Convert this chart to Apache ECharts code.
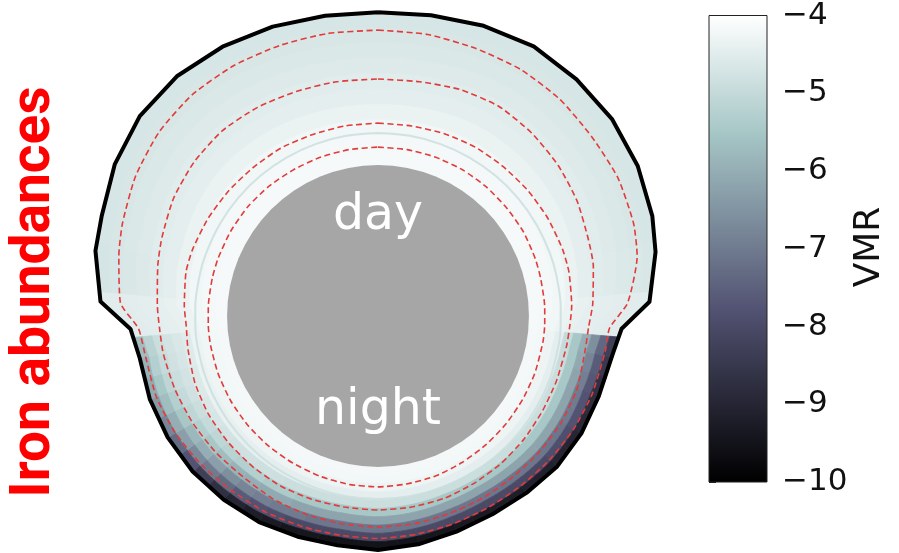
<!DOCTYPE html>
<html>
<head>
<meta charset="utf-8">
<script src="https://cdn.jsdelivr.net/npm/echarts@6/dist/echarts.min.js"></script>
<style>
  html, body { margin: 0; padding: 0; background: #ffffff; }
  #chart { width: 899px; height: 553px; }
</style>
</head>
<body>
<div id="chart"></div>
<script>
// Radii are in planetary radii; angles in degrees clockwise from the
// substellar point (top of the disk, "day") round to the antistellar point.
const planetRadius = 1.0;
const ringRadius = 1.212;
const ringVmr = -4.9;

const profileAngles = [0, 10, 20, 30, 40, 50, 60, 70, 77, 87, 93, 99, 110, 120, 130, 140, 150, 160, 170, 180,
  190, 200, 210, 220, 230, 240, 250, 260, 267, 273, 283, 290, 300, 310, 320, 330, 340, 350, 360];

// Top of the model domain
const topRadius = [2.013, 2.023, 2.046, 2.063, 2.046, 2.026, 1.987, 1.934, 1.887, 1.801, 1.616, 1.576, 1.556, 1.556,
  1.550, 1.530, 1.517, 1.520, 1.536, 1.550, 1.543, 1.556, 1.576, 1.589, 1.603, 1.609, 1.609, 1.603, 1.642, 1.841,
  1.921, 1.947, 2.013, 2.060, 2.073, 2.060, 2.040, 2.020, 2.013];

// Dashed isobars, innermost to outermost
const isobar1 = [1.119, 1.119, 1.119, 1.119, 1.116, 1.113, 1.113, 1.109, 1.106, 1.106, 1.106, 1.106, 1.106, 1.106,
  1.109, 1.113, 1.119, 1.126, 1.129, 1.132, 1.132, 1.129, 1.126, 1.126, 1.126, 1.126, 1.126, 1.126, 1.126, 1.126,
  1.126, 1.126, 1.126, 1.126, 1.123, 1.119, 1.119, 1.119, 1.119];
const isobar2 = [1.278, 1.278, 1.285, 1.291, 1.291, 1.295, 1.298, 1.300, 1.298, 1.285, 1.272, 1.265, 1.258, 1.258,
  1.265, 1.272, 1.278, 1.285, 1.285, 1.285, 1.285, 1.291, 1.298, 1.298, 1.298, 1.298, 1.291, 1.278, 1.272, 1.285,
  1.305, 1.305, 1.298, 1.291, 1.285, 1.285, 1.278, 1.278, 1.278];
const isobar3 = [1.570, 1.576, 1.596, 1.603, 1.583, 1.556, 1.523, 1.483, 1.464, 1.424, 1.397, 1.391, 1.404, 1.404,
  1.397, 1.391, 1.391, 1.391, 1.397, 1.397, 1.397, 1.397, 1.397, 1.391, 1.404, 1.417, 1.430, 1.444, 1.450, 1.464,
  1.497, 1.523, 1.563, 1.589, 1.603, 1.596, 1.583, 1.576, 1.570];
const isobar4 = [1.894, 1.894, 1.887, 1.887, 1.874, 1.848, 1.834, 1.801, 1.762, 1.656, 1.536, 1.523, 1.510, 1.497,
  1.483, 1.470, 1.464, 1.464, 1.468, 1.474, 1.474, 1.483, 1.497, 1.510, 1.530, 1.550, 1.563, 1.563, 1.589, 1.709,
  1.762, 1.801, 1.854, 1.894, 1.914, 1.914, 1.907, 1.901, 1.894];

// log10 VMR of Fe on model layers (rows: bottom layer first), day-side columns
const dayColumnEdges = [-95, -85, -75, -65, -55, -45, -35, -25, -15, -5, 5, 15, 25, 35, 45, 55, 65, 75, 85, 95];
const dayVmr = [
  [-4.16, -4.16, -4.16, -4.16, -4.16, -4.16, -4.16, -4.16, -4.16, -4.16, -4.16, -4.16, -4.16, -4.16, -4.16, -4.16, -4.16, -4.16, -4.16],
  [-4.18, -4.18, -4.18, -4.18, -4.18, -4.18, -4.18, -4.18, -4.18, -4.18, -4.18, -4.18, -4.18, -4.18, -4.18, -4.18, -4.18, -4.18, -4.18],
  [-4.24, -4.24, -4.24, -4.24, -4.24, -4.24, -4.24, -4.24, -4.24, -4.24, -4.24, -4.24, -4.24, -4.24, -4.24, -4.24, -4.24, -4.24, -4.24],
  [-4.32, -4.34, -4.34, -4.34, -4.34, -4.34, -4.34, -4.34, -4.34, -4.34, -4.34, -4.34, -4.34, -4.34, -4.34, -4.34, -4.34, -4.34, -4.32],
  [-4.40, -4.45, -4.45, -4.45, -4.45, -4.45, -4.45, -4.45, -4.45, -4.45, -4.45, -4.45, -4.45, -4.45, -4.45, -4.45, -4.45, -4.45, -4.40],
  [-4.44, -4.53, -4.52, -4.52, -4.52, -4.52, -4.52, -4.52, -4.52, -4.52, -4.52, -4.52, -4.52, -4.52, -4.52, -4.52, -4.52, -4.52, -4.44],
  [-4.46, -4.58, -4.57, -4.57, -4.57, -4.57, -4.57, -4.57, -4.57, -4.57, -4.57, -4.57, -4.57, -4.57, -4.57, -4.57, -4.57, -4.55, -4.46],
  [-4.48, -4.64, -4.62, -4.62, -4.62, -4.62, -4.62, -4.62, -4.62, -4.62, -4.62, -4.62, -4.62, -4.62, -4.62, -4.62, -4.62, -4.60, -4.48],
  [-4.50, -4.68, -4.66, -4.66, -4.66, -4.66, -4.66, -4.66, -4.66, -4.66, -4.66, -4.66, -4.66, -4.66, -4.66, -4.66, -4.66, -4.63, -4.50],
  [-4.52, -4.72, -4.70, -4.70, -4.70, -4.70, -4.70, -4.70, -4.70, -4.70, -4.70, -4.70, -4.70, -4.70, -4.70, -4.70, -4.70, -4.66, -4.52]
];

// Night-side columns
const nightColumnEdges = [95, 100, 105, 110, 115, 120, 125, 130, 135, 140, 145, 150, 155, 160, 165, 170, 175, 180,
  185, 190, 195, 200, 205, 210, 215, 220, 225, 230, 235, 240, 245, 250, 255, 260, 265];
const nightVmr = [
  [-4.18, -4.18, -4.18, -4.18, -4.18, -4.18, -4.18, -4.18, -4.18, -4.18, -4.18, -4.18, -4.18, -4.18, -4.18, -4.18, -4.18, -4.18, -4.18, -4.18, -4.18, -4.18, -4.18, -4.18, -4.18, -4.18, -4.18, -4.18, -4.18, -4.18, -4.18, -4.18, -4.18, -4.18],
  [-4.22, -4.22, -4.22, -4.22, -4.22, -4.22, -4.22, -4.22, -4.22, -4.22, -4.22, -4.22, -4.22, -4.22, -4.22, -4.22, -4.22, -4.22, -4.22, -4.22, -4.22, -4.22, -4.22, -4.22, -4.22, -4.22, -4.22, -4.22, -4.22, -4.22, -4.22, -4.22, -4.22, -4.22],
  [-4.30, -4.30, -4.30, -4.30, -4.30, -4.30, -4.30, -4.30, -4.30, -4.30, -4.30, -4.30, -4.30, -4.30, -4.30, -4.30, -4.30, -4.30, -4.30, -4.30, -4.30, -4.30, -4.30, -4.30, -4.30, -4.30, -4.30, -4.30, -4.30, -4.29, -4.28, -4.27, -4.26, -4.26],
  [-4.45, -4.45, -4.45, -4.45, -4.45, -4.45, -4.45, -4.45, -4.45, -4.45, -4.45, -4.45, -4.45, -4.45, -4.45, -4.45, -4.45, -4.45, -4.45, -4.45, -4.45, -4.45, -4.45, -4.45, -4.45, -4.44, -4.43, -4.42, -4.40, -4.38, -4.36, -4.34, -4.33, -4.32],
  [-5.00, -4.95, -4.90, -4.90, -4.90, -4.90, -4.90, -4.90, -4.90, -4.90, -4.90, -4.90, -4.90, -4.90, -4.90, -4.90, -4.90, -4.90, -4.90, -4.90, -4.90, -4.90, -4.90, -4.85, -4.85, -4.80, -4.80, -4.75, -4.70, -4.65, -4.60, -4.60, -4.55, -4.55],
  [-5.50, -5.50, -5.50, -5.50, -5.50, -5.50, -5.50, -5.50, -5.50, -5.50, -5.50, -5.50, -5.50, -5.50, -5.50, -5.50, -5.50, -5.50, -5.50, -5.50, -5.50, -5.50, -5.40, -5.40, -5.30, -5.30, -5.20, -5.10, -5.00, -4.90, -4.80, -4.75, -4.70, -4.65],
  [-6.00, -6.10, -6.20, -6.20, -6.20, -6.20, -6.20, -6.20, -6.20, -6.20, -6.20, -6.20, -6.20, -6.20, -6.20, -6.20, -6.20, -6.20, -6.20, -6.20, -6.20, -6.20, -6.10, -6.10, -6.00, -5.90, -5.70, -5.50, -5.30, -5.10, -5.00, -4.90, -4.80, -4.75],
  [-6.60, -6.80, -6.90, -7.00, -7.00, -7.10, -7.10, -7.10, -7.10, -7.10, -7.10, -7.10, -7.10, -7.10, -7.10, -7.10, -7.10, -7.10, -7.10, -7.10, -7.10, -7.00, -7.00, -6.90, -6.80, -6.60, -6.30, -6.00, -5.80, -5.50, -5.30, -5.10, -5.00, -4.90],
  [-7.40, -7.60, -7.70, -7.80, -7.80, -7.90, -7.90, -8.00, -8.00, -8.00, -8.00, -8.00, -8.00, -8.00, -8.00, -8.00, -8.00, -8.00, -8.00, -8.00, -8.00, -8.00, -7.90, -7.80, -7.60, -7.30, -7.00, -6.70, -6.30, -6.00, -5.70, -5.50, -5.30, -5.20],
  [-8.30, -8.50, -8.70, -8.80, -8.90, -9.00, -9.00, -9.10, -9.10, -9.20, -9.20, -9.30, -9.30, -9.40, -9.40, -9.50, -9.50, -9.50, -9.50, -9.50, -9.40, -9.40, -9.30, -9.20, -9.00, -8.70, -8.30, -7.80, -7.30, -6.80, -6.40, -6.10, -5.90, -5.70]
];

const colorbarTicks = [-10, -9, -8, -7, -6, -5, -4];
const vmrMin = -10, vmrMax = -4;

// matplotlib "bone" colour map (piecewise linear)
function bone(t) {
  t = Math.max(0, Math.min(1, t));
  const r = t < 0.746032 ? 0.652778 * t / 0.746032 : 0.652778 + (t - 0.746032) / 0.253968 * 0.347222;
  const g = t < 0.365079 ? 0.319444 * t / 0.365079
    : t < 0.746032 ? 0.319444 + (t - 0.365079) / 0.380953 * 0.458334
    : 0.777778 + (t - 0.746032) / 0.253968 * 0.222222;
  const b = t < 0.365079 ? 0.444444 * t / 0.365079 : 0.444444 + (t - 0.365079) / 0.634921 * 0.555556;
  return 'rgb(' + Math.round(r * 255) + ',' + Math.round(g * 255) + ',' + Math.round(b * 255) + ')';
}
const vmrColor = v => bone((v - vmrMin) / (vmrMax - vmrMin));

const levelCount = dayVmr.length;

function topAt(a) {
  a = ((a % 360) + 360) % 360;
  for (let i = 0; i < profileAngles.length - 1; i++) {
    const a0 = profileAngles[i], a1 = profileAngles[i + 1];
    if (a >= a0 && a <= a1) {
      const t = (a - a0) / (a1 - a0);
      return topRadius[i] + t * (topRadius[i + 1] - topRadius[i]);
    }
  }
  return topRadius[0];
}
const layerRadius = (f, a) => planetRadius + f * (topAt(a) - planetRadius);

const fieldData = [];
function addColumns(edges, rows) {
  rows.forEach((row, lev) => row.forEach((v, c) => fieldData.push([edges[c], edges[c + 1], lev, v])));
}
addColumns(dayColumnEdges, dayVmr);
addColumns(nightColumnEdges, nightVmr);

const polarLine = radii => profileAngles.map((a, i) => [radii[i], a]);

function renderCell(params, api) {
  const a0 = api.value(0), a1 = api.value(1), lev = api.value(2), v = api.value(3);
  const f0 = lev / levelCount, f1 = (lev + 1) / levelCount;
  const steps = Math.max(2, Math.ceil(Math.abs(a1 - a0)));
  const pts = [];
  for (let i = 0; i <= steps; i++) {
    const a = a0 + (a1 - a0) * i / steps;
    pts.push(api.coord([layerRadius(f1, a), ((a % 360) + 360) % 360]));
  }
  for (let i = steps; i >= 0; i--) {
    const a = a0 + (a1 - a0) * i / steps;
    pts.push(api.coord([layerRadius(f0, a), ((a % 360) + 360) % 360]));
  }
  const c = vmrColor(v);
  return { type: 'polygon', shape: { points: pts }, style: { fill: c, stroke: c, lineWidth: 0.8 } };
}

function renderPlanet(params, api) {
  const c = api.coord([0, 0]);
  const p = api.coord([api.value(0), 0]);
  return {
    type: 'circle',
    shape: { cx: c[0], cy: c[1], r: Math.hypot(p[0] - c[0], p[1] - c[1]) },
    style: { fill: '#a6a6a6' }
  };
}

function renderColorbar(params, api) {
  const p0 = api.coord([api.value(0), vmrMax]);
  const p1 = api.coord([api.value(1), vmrMin]);
  const stops = [0, 0.253968, 0.634921, 1].map(o => ({ offset: o, color: bone(1 - o) }));
  return {
    type: 'rect',
    shape: { x: p0[0], y: p0[1], width: p1[0] - p0[0], height: p1[1] - p0[1] },
    style: {
      fill: new echarts.graphic.LinearGradient(0, 0, 0, 1, stops),
      stroke: '#222', lineWidth: 1
    }
  };
}

const dashed = { color: '#e23b3b', width: 1.6, type: [6, 3.5] };
const isobarSeries = [isobar1, isobar2, isobar3, isobar4].map(r => ({
  type: 'line', coordinateSystem: 'polar', data: polarLine(r), symbol: 'none', smooth: 0.2,
  lineStyle: dashed, z: 5, silent: true
}));

const chart = echarts.init(document.getElementById('chart'), null, { renderer: 'canvas' });
chart.setOption({
  animation: false,
  backgroundColor: '#ffffff',
  polar: { center: [378, 316], radius: 317 },
  angleAxis: { type: 'value', min: 0, max: 360, startAngle: 90, clockwise: true, show: false },
  radiusAxis: { type: 'value', min: 0, max: 2.1, show: false },
  grid: { left: 709, top: 13, width: 58, height: 469 },
  xAxis: { type: 'value', min: 0, max: 1, show: false },
  yAxis: {
    type: 'value', min: vmrMin, max: vmrMax, interval: 1, position: 'right',
    axisLine: { show: true, lineStyle: { color: '#222', width: 1 } },
    axisTick: { show: true, length: 7, lineStyle: { color: '#222', width: 1 } },
    splitLine: { show: false },
    axisLabel: {
      margin: 15, fontSize: 31, color: '#111', fontFamily: 'DejaVu Sans',
      formatter: v => colorbarTicks.includes(v) ? String(v).replace('-', '\u2212') : ''
    }
  },
  series: [
    { type: 'custom', coordinateSystem: 'polar', renderItem: renderCell, data: fieldData, z: 1, silent: true },
    {
      type: 'line', coordinateSystem: 'polar', data: profileAngles.map(a => [ringRadius, a]), symbol: 'none',
      smooth: 0.3, lineStyle: { color: vmrColor(ringVmr), width: 2, opacity: 0.85 }, z: 2, silent: true
    },
    { type: 'custom', coordinateSystem: 'polar', renderItem: renderPlanet, data: [[planetRadius, 0]], z: 3, silent: true },
    ...isobarSeries,
    {
      type: 'line', coordinateSystem: 'polar', data: polarLine(topRadius), symbol: 'none',
      lineStyle: { color: '#000000', width: 4, join: 'round' }, z: 6, silent: true
    },
    {
      type: 'custom', coordinateSystem: 'cartesian2d', renderItem: renderColorbar,
      data: [[0, 1]], z: 2, silent: true
    }
  ],
  graphic: [
    { type: 'text', x: 378, y: 216, z: 10, style: { text: 'day', fill: '#ffffff', fontSize: 49, fontFamily: 'DejaVu Sans', align: 'center', verticalAlign: 'middle' } },
    { type: 'text', x: 378, y: 411, z: 10, style: { text: 'night', fill: '#ffffff', fontSize: 49, fontFamily: 'DejaVu Sans', align: 'center', verticalAlign: 'middle' } },
    { type: 'text', x: 870, y: 247, rotation: Math.PI / 2, z: 10, style: { text: 'VMR', fill: '#111', fontSize: 36, fontFamily: 'DejaVu Sans', align: 'center', verticalAlign: 'middle' } },
    { type: 'text', x: 35, y: 292, rotation: Math.PI / 2, z: 10, style: { text: 'Iron abundances', fill: '#ff0000', fontSize: 55, fontWeight: 'bold', fontFamily: 'Roboto', align: 'center', verticalAlign: 'middle' } }
  ]
});
</script>
</body>
</html>
